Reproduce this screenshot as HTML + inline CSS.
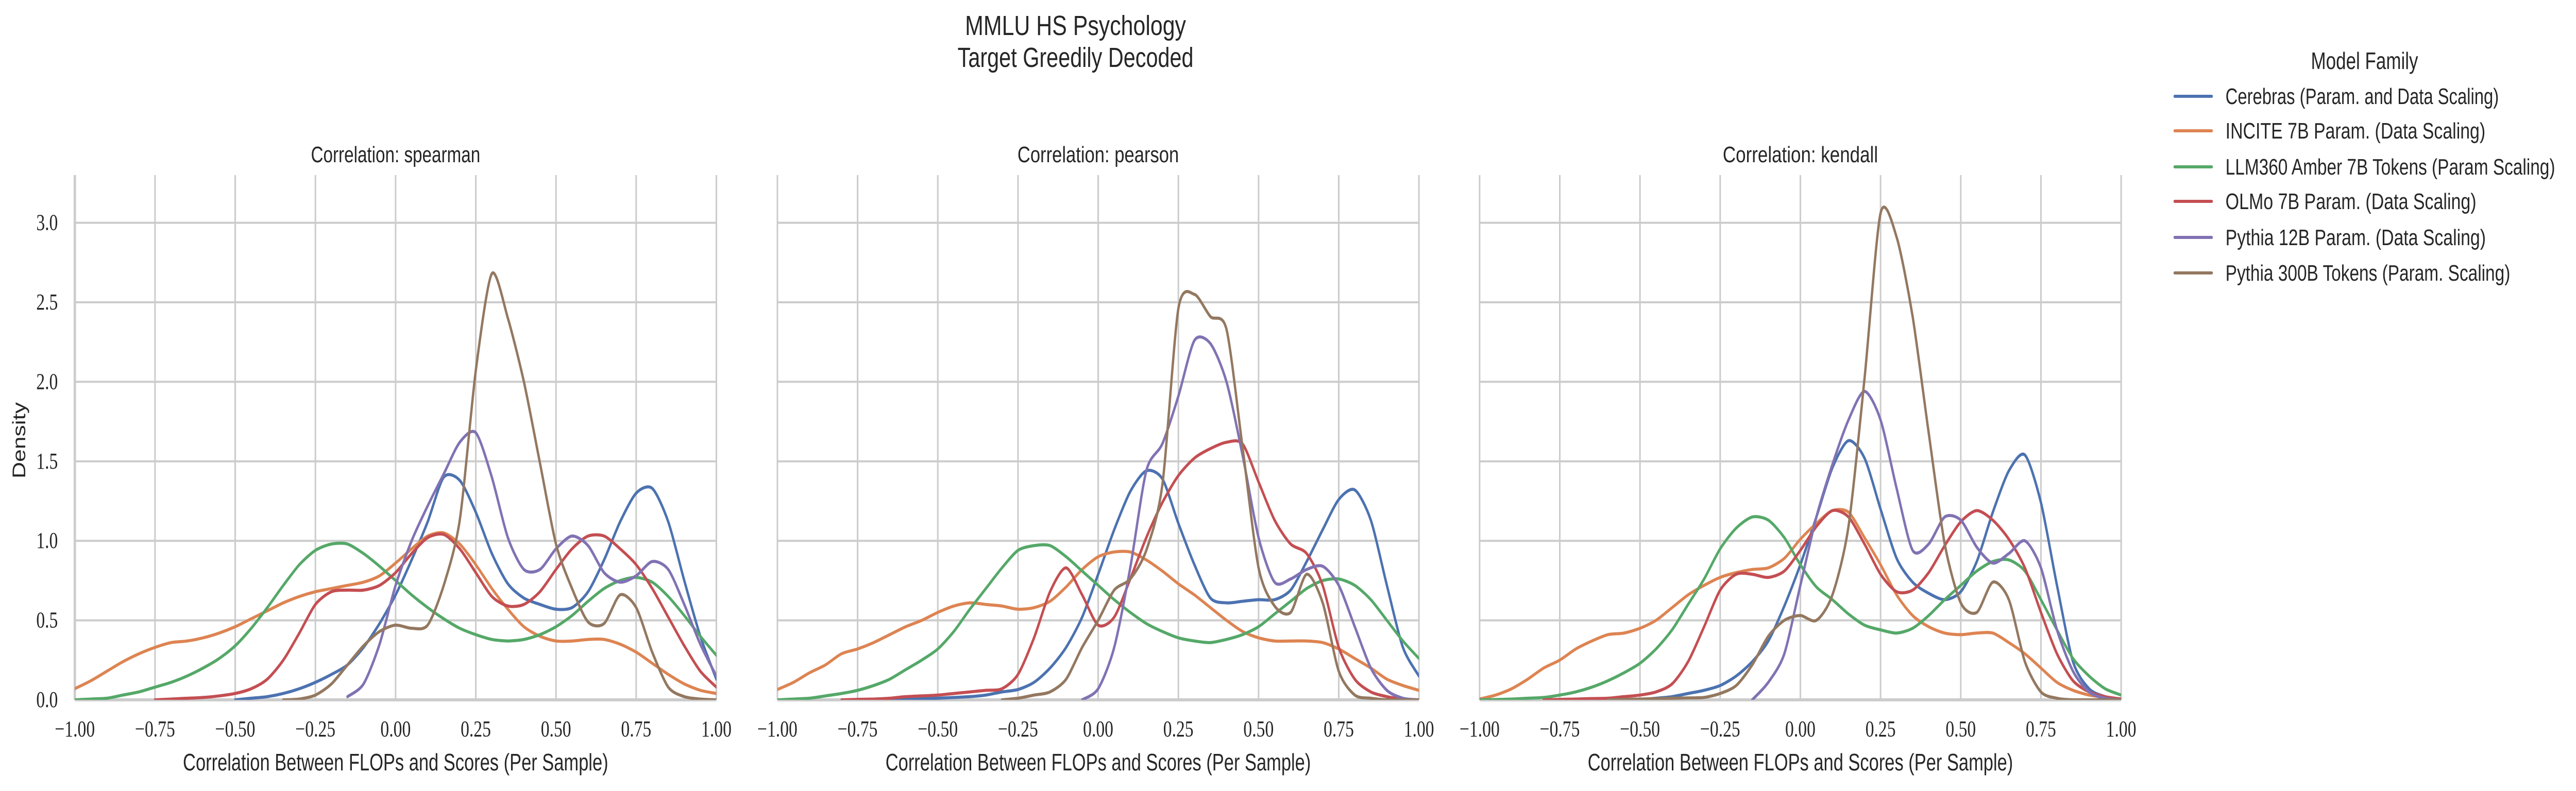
<!DOCTYPE html>
<html><head><meta charset="utf-8">
<style>
html,body{margin:0;padding:0;background:#fff;width:100%;height:100%;overflow:hidden;}
svg{display:block;width:100vw;height:100vh;}
text{fill:#262626;}
</style></head>
<body>
<svg id="fig" xmlns="http://www.w3.org/2000/svg" width="100%" height="100%" viewBox="0 0 6541 1536" preserveAspectRatio="none">
<rect width="6541" height="1536" fill="#fff"/>
<text x="2731" y="68" text-anchor="middle" font-family="Liberation Sans, sans-serif" font-size="54" textLength="561" lengthAdjust="spacingAndGlyphs">MMLU HS Psychology</text>
<text x="2731" y="130" text-anchor="middle" font-family="Liberation Sans, sans-serif" font-size="54" textLength="599" lengthAdjust="spacingAndGlyphs">Target Greedily Decoded</text>
<text transform="translate(64,855) rotate(-90)" text-anchor="middle" font-family="Liberation Sans, sans-serif" font-size="46" textLength="148" lengthAdjust="spacingAndGlyphs">Density</text>
<g id="panels"></g>
<g id="legend">
<text x="6004" y="134" text-anchor="middle" font-family="Liberation Sans, sans-serif" font-size="46" textLength="272" lengthAdjust="spacingAndGlyphs">Model Family</text>
</g>
</svg>
<script>
// ---- data ----
const xGrid = [-1,-0.95,-0.9,-0.85,-0.8,-0.75,-0.7,-0.65,-0.6,-0.55,-0.5,-0.45,-0.4,-0.35,-0.3,-0.25,-0.2,-0.15,-0.1,-0.05,0,0.05,0.1,0.15,0.2,0.25,0.3,0.35,0.4,0.45,0.5,0.55,0.6,0.65,0.7,0.75,0.8,0.85,0.9,0.95,1];
const seriesNames = ["Cerebras (Param. and Data Scaling)","INCITE 7B Param. (Data Scaling)","LLM360 Amber 7B Tokens (Param Scaling)","OLMo 7B Param. (Data Scaling)","Pythia 12B Param. (Data Scaling)","Pythia 300B Tokens (Param. Scaling)"];
const panelTitles = ["Correlation: spearman","Correlation: pearson","Correlation: kendall"];
const xTicks = [-1,-0.75,-0.5,-0.25,0,0.25,0.5,0.75,1];
const xTickLabels = ["\u22121.00","\u22120.75","\u22120.50","\u22120.25","0.00","0.25","0.50","0.75","1.00"];
const yTicks = [0,0.5,1,1.5,2,2.5,3];
const yTickLabels = ["0.0","0.5","1.0","1.5","2.0","2.5","3.0"];
const N=null;
// spearman
const spearmanCerebras=[N,N,N,N,N,N,N,N,N,N,0,0.01,0.02,0.04,0.07,0.11,0.16,0.22,0.33,0.48,0.66,0.88,1.12,1.40,1.38,1.18,0.92,0.73,0.64,0.60,0.57,0.58,0.68,0.88,1.12,1.30,1.33,1.12,0.75,0.40,0.13];
const spearmanIncite=[0.07,0.12,0.18,0.24,0.29,0.33,0.36,0.37,0.39,0.42,0.46,0.51,0.56,0.61,0.65,0.68,0.70,0.72,0.74,0.78,0.86,0.95,1.03,1.05,0.98,0.85,0.70,0.57,0.46,0.40,0.37,0.37,0.38,0.38,0.35,0.30,0.23,0.16,0.10,0.06,0.04];
const spearmanAmber=[0,0.005,0.01,0.03,0.05,0.08,0.11,0.15,0.20,0.26,0.34,0.45,0.58,0.72,0.85,0.94,0.98,0.98,0.92,0.84,0.75,0.66,0.58,0.51,0.45,0.41,0.38,0.37,0.38,0.41,0.46,0.53,0.62,0.70,0.75,0.77,0.74,0.65,0.53,0.40,0.28];
const spearmanOlmo=[N,N,N,N,N,0,0.005,0.01,0.015,0.025,0.04,0.07,0.13,0.25,0.42,0.60,0.68,0.69,0.69,0.72,0.80,0.92,1.02,1.04,0.95,0.80,0.65,0.59,0.60,0.68,0.82,0.95,1.03,1.03,0.95,0.85,0.70,0.52,0.34,0.18,0.08];
const spearmanPythia12=[N,N,N,N,N,N,N,N,N,N,N,N,N,N,N,N,N,0.02,0.10,0.35,0.72,1.00,1.22,1.42,1.62,1.68,1.40,1.02,0.82,0.82,0.95,1.03,0.97,0.80,0.74,0.78,0.87,0.82,0.60,0.35,0.15];
const spearmanPythia300=[N,N,N,N,N,N,N,N,N,N,N,N,N,0,0.005,0.03,0.10,0.22,0.34,0.43,0.47,0.45,0.47,0.72,1.13,2.07,2.68,2.40,2.00,1.49,0.98,0.70,0.49,0.48,0.66,0.58,0.30,0.08,0.02,0.005,0];
// pearson
const pearsonCerebras=[N,N,N,N,N,0,0.002,0.004,0.005,0.008,0.01,0.015,0.02,0.03,0.05,0.065,0.11,0.2,0.33,0.52,0.79,1.07,1.31,1.44,1.39,1.11,0.85,0.64,0.61,0.62,0.63,0.63,0.69,0.87,1.07,1.26,1.32,1.13,0.72,0.33,0.15];
const pearsonIncite=[0.065,0.11,0.17,0.22,0.29,0.32,0.36,0.41,0.46,0.50,0.55,0.59,0.61,0.60,0.59,0.57,0.58,0.62,0.71,0.82,0.90,0.93,0.93,0.88,0.81,0.73,0.66,0.58,0.50,0.43,0.39,0.37,0.37,0.37,0.36,0.32,0.26,0.20,0.13,0.09,0.06];
const pearsonAmber=[0,0.005,0.01,0.025,0.04,0.06,0.09,0.13,0.19,0.25,0.32,0.43,0.57,0.70,0.83,0.94,0.97,0.97,0.90,0.81,0.72,0.63,0.55,0.48,0.43,0.39,0.37,0.36,0.38,0.41,0.46,0.54,0.62,0.70,0.75,0.76,0.72,0.63,0.50,0.37,0.26];
const pearsonOlmo=[N,N,N,N,0,0.003,0.005,0.01,0.02,0.025,0.03,0.04,0.05,0.06,0.07,0.16,0.39,0.68,0.83,0.66,0.47,0.52,0.76,1.02,1.24,1.41,1.52,1.58,1.62,1.61,1.37,1.13,0.98,0.92,0.72,0.33,0.13,0.05,0.02,0.005,0];
const pearsonPythia12=[N,N,N,N,N,N,N,N,N,N,N,N,N,N,N,N,N,N,N,0,0.07,0.33,0.83,1.44,1.61,1.91,2.26,2.24,2.0,1.54,1.02,0.74,0.76,0.82,0.84,0.72,0.46,0.20,0.06,0.01,0];
const pearsonPythia300=[N,N,N,N,N,N,N,N,N,N,N,N,N,N,0,0.01,0.03,0.05,0.13,0.33,0.50,0.69,0.76,0.94,1.35,2.46,2.55,2.41,2.33,1.59,0.83,0.59,0.55,0.79,0.61,0.18,0.03,0.01,0,0,0];
// kendall
const kendallCerebras=[N,N,N,N,N,N,N,N,N,N,0,0.01,0.02,0.04,0.06,0.09,0.15,0.24,0.37,0.59,0.85,1.15,1.46,1.63,1.52,1.20,0.89,0.74,0.67,0.63,0.68,0.87,1.18,1.44,1.54,1.24,0.72,0.24,0.07,0.02,0.005];
const kendallIncite=[0.005,0.03,0.07,0.13,0.20,0.25,0.32,0.37,0.41,0.42,0.45,0.50,0.58,0.66,0.72,0.77,0.80,0.82,0.83,0.89,1.01,1.11,1.19,1.18,1.02,0.85,0.66,0.53,0.46,0.42,0.41,0.42,0.42,0.36,0.29,0.20,0.11,0.06,0.03,0.015,0.005];
const kendallAmber=[0,0.002,0.005,0.01,0.015,0.03,0.05,0.08,0.12,0.17,0.23,0.32,0.44,0.60,0.76,0.95,1.08,1.15,1.13,1.02,0.85,0.71,0.63,0.54,0.47,0.44,0.42,0.45,0.53,0.63,0.72,0.81,0.87,0.88,0.81,0.63,0.44,0.26,0.15,0.07,0.03];
const kendallOlmo=[N,N,N,N,0,0.003,0.005,0.008,0.01,0.02,0.03,0.05,0.10,0.24,0.46,0.69,0.79,0.79,0.77,0.81,0.94,1.09,1.19,1.15,0.98,0.79,0.68,0.69,0.80,0.97,1.12,1.19,1.13,1.01,0.83,0.55,0.29,0.12,0.05,0.02,0.005];
const kendallPythia12=[N,N,N,N,N,N,N,N,N,N,N,N,N,N,N,N,N,0,0.11,0.29,0.72,1.15,1.48,1.76,1.94,1.76,1.33,0.94,0.98,1.15,1.13,0.96,0.86,0.92,1.00,0.83,0.44,0.18,0.05,0.01,0];
const kendallPythia300=[N,N,N,N,N,N,N,N,0,0.003,0.005,0.008,0.01,0.012,0.015,0.04,0.09,0.22,0.40,0.50,0.53,0.50,0.66,1.09,2.02,3.06,2.91,2.41,1.68,0.98,0.61,0.55,0.74,0.63,0.24,0.05,0.01,0,0,0,0];

const panelData = [
  [spearmanCerebras,spearmanIncite,spearmanAmber,spearmanOlmo,spearmanPythia12,spearmanPythia300],
  [pearsonCerebras,pearsonIncite,pearsonAmber,pearsonOlmo,pearsonPythia12,pearsonPythia300],
  [kendallCerebras,kendallIncite,kendallAmber,kendallOlmo,kendallPythia12,kendallPythia300]
];

// ---- layout ----
const colors=["#4c72b0","#dd8452","#55a868","#c44e52","#8172b3","#937860"];
const panelLefts=[190,1974,3757];
const panelW=1629, plotTop=340, plotBottom=1359, yMax=3.3;
const titleLens=[430,410,394];
const NS="http://www.w3.org/2000/svg";
function mk(tag,attrs,parent){const e=document.createElementNS(NS,tag);for(const k in attrs)e.setAttribute(k,attrs[k]);parent.appendChild(e);return e;}
function yScale(v){return plotBottom-(v/yMax)*(plotBottom-plotTop);}
const panelsG=document.getElementById('panels');
const keys=["spearman","pearson","kendall"];

panelLefts.forEach((L,p)=>{
  const xScale=v=>L+(v+1)/2*panelW;
  const g=mk('g',{},panelsG);
  
  
  const cp=mk('clipPath',{id:'clip'+p},g);
  mk('rect',{x:L,y:plotTop-10,width:panelW,height:plotBottom-plotTop+10},cp);
  yTicks.forEach((t,i)=>{
    const y=yScale(t);
    const gl=mk('line',{x1:L,x2:L+panelW,y1:y,y2:y,stroke:'#cccccc','stroke-width':i===0?6:4},g);
    
    
    if(p===0){
      const tl=mk('text',{x:147,y:y+14,'text-anchor':'end','font-family':'Liberation Serif, serif','font-size':44},g);
      tl.textContent=yTickLabels[i];
      
      
    }
  });
  xTicks.forEach((t,i)=>{
    const x=xScale(t);
    const gl=mk('line',{x1:x,x2:x,y1:plotTop,y2:plotBottom,stroke:'#cccccc','stroke-width':(i===0&&p===0)?6:4},g);
    
    
    const tl=mk('text',{x:x,y:1430,'text-anchor':'middle','font-family':'Liberation Serif, serif','font-size':44},g);
    tl.textContent=xTickLabels[i];
    
    
  });
  const tt=mk('text',{x:L+panelW/2,y:315,'text-anchor':'middle','font-family':'Liberation Sans, sans-serif','font-size':44,textLength:titleLens[p],lengthAdjust:'spacingAndGlyphs'},g);
  tt.textContent=panelTitles[p];
  
  
  const xl=mk('text',{x:L+panelW/2,y:1496,'text-anchor':'middle','font-family':'Liberation Sans, sans-serif','font-size':46,textLength:1080,lengthAdjust:'spacingAndGlyphs'},g);
  xl.textContent="Correlation Between FLOPs and Scores (Per Sample)";
  
  
  const cg=mk('g',{'clip-path':'url(#clip'+p+')'},g);
  panelData[p].forEach((vals,s)=>{
    const pts=[];
    vals.forEach((v,i)=>{if(v!==null)pts.push([xScale(xGrid[i]),yScale(v)]);});
    let d='M'+pts[0][0].toFixed(1)+','+pts[0][1].toFixed(1);
    for(let i=0;i<pts.length-1;i++){
      const p0=pts[Math.max(0,i-1)],p1=pts[i],p2=pts[i+1],p3=pts[Math.min(pts.length-1,i+2)];
      const t=0.8/6;
      const c1=[p1[0]+(p2[0]-p0[0])*t,p1[1]+(p2[1]-p0[1])*t];
      const c2=[p2[0]-(p3[0]-p1[0])*t,p2[1]-(p3[1]-p1[1])*t];
      d+=' C'+c1[0].toFixed(1)+','+Math.min(plotBottom,c1[1]).toFixed(1)+' '+c2[0].toFixed(1)+','+Math.min(plotBottom,c2[1]).toFixed(1)+' '+p2[0].toFixed(1)+','+p2[1].toFixed(1);
    }
    const path=mk('path',{d:d,fill:'none',stroke:colors[s],'stroke-width':6,'stroke-linejoin':'round','stroke-linecap':'round'},cg);
    
    
  });
});

const lg=document.getElementById('legend');
const legendY=[187,254,324,391,461,530];
const legendLens=[694,660,837,637,661,723];
seriesNames.forEach((n,i)=>{
  const e=mk('g',{},lg);
  
  
  mk('line',{x1:5522,x2:5616,y1:legendY[i],y2:legendY[i],stroke:colors[i],'stroke-width':6,'stroke-linecap':'round'},e);
  const t=mk('text',{x:5651,y:legendY[i]+15,'font-family':'Liberation Sans, sans-serif','font-size':44,textLength:legendLens[i],lengthAdjust:'spacingAndGlyphs'},e);
  t.textContent=n;
});
</script>
</body></html>
